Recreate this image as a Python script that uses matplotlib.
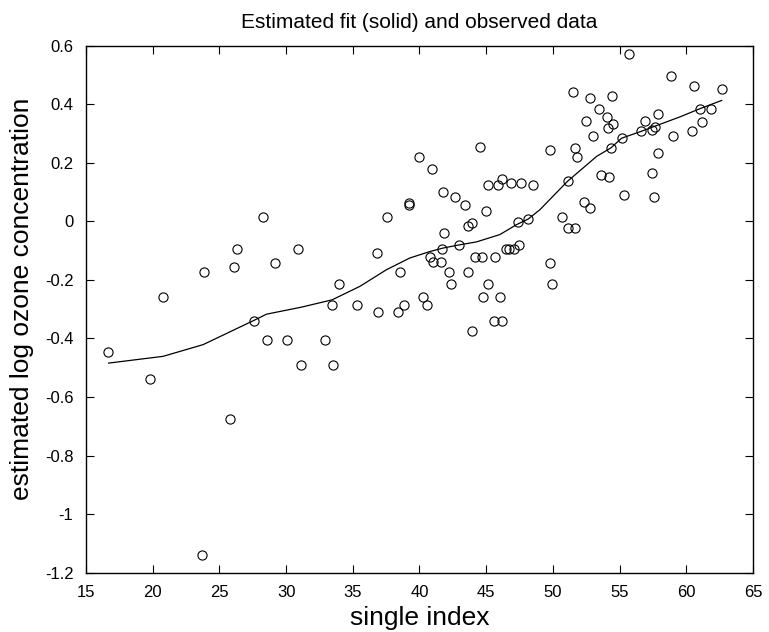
import matplotlib
matplotlib.use('Agg')
import matplotlib.pyplot as plt
from matplotlib.ticker import FuncFormatter

matplotlib.rcParams['font.family'] = ['Liberation Sans', 'DejaVu Sans']
matplotlib.rcParams['axes.unicode_minus'] = False

# observed data (single index, estimated log ozone)
obs_x = [16.65, 19.8, 20.75, 23.88, 26.13, 26.33, 28.25, 29.2, 30.86, 27.6,
         28.55, 30.08, 31.15, 25.83, 23.68, 44.55, 40.0, 40.93, 41.73, 42.63,
         43.4, 44.95, 45.15, 45.85, 46.2, 46.85, 47.6, 48.5, 39.23, 39.18,
         37.55, 41.85, 43.65, 43.95, 47.4, 48.15, 36.83, 33.95, 33.45, 35.3,
         36.88, 38.38, 38.85, 38.53, 40.23, 40.6, 32.95, 33.55, 40.78, 40.98,
         41.6, 41.65, 42.2, 42.35, 42.95, 43.63, 44.15, 44.7, 45.65, 45.15,
         44.78, 46.05, 43.9, 45.6, 46.2, 46.48, 46.73, 47.1, 47.48, 55.7,
         58.83, 60.55, 62.7, 51.54, 52.76, 54.4, 53.45, 54.08, 54.48, 54.15,
         52.5, 52.98, 54.35, 55.18, 56.9, 57.88, 56.6, 57.43, 57.65, 59.0,
         60.45, 61.18, 61.0, 61.83, 57.9, 57.4, 57.58, 55.35, 53.58, 54.18,
         51.65, 51.83, 49.8, 51.1, 52.33, 52.75, 50.68, 51.15, 51.65, 49.75,
         49.93]
obs_y = [-0.445, -0.54, -0.258, -0.174, -0.157, -0.094, 0.016, -0.141, -0.094, -0.34,
         -0.405, -0.405, -0.491, -0.676, -1.138, 0.253, 0.220, 0.179, 0.100, 0.082,
         0.056, 0.037, 0.123, 0.123, 0.145, 0.131, 0.131, 0.123, 0.064, 0.055,
         0.016, -0.040, -0.016, -0.004, -0.002, 0.008, -0.108, -0.214, -0.285, -0.285,
         -0.310, -0.310, -0.285, -0.174, -0.259, -0.285, -0.405, -0.491, -0.121, -0.140,
         -0.140, -0.094, -0.174, -0.214, -0.080, -0.174, -0.123, -0.123, -0.123, -0.214,
         -0.259, -0.259, -0.373, -0.341, -0.341, -0.094, -0.094, -0.094, -0.080, 0.571,
         0.498, 0.464, 0.451, 0.443, 0.422, 0.429, 0.384, 0.357, 0.331, 0.318,
         0.344, 0.292, 0.249, 0.284, 0.344, 0.366, 0.308, 0.313, 0.321, 0.292,
         0.310, 0.340, 0.385, 0.385, 0.232, 0.165, 0.082, 0.091, 0.160, 0.152,
         0.249, 0.220, 0.244, 0.137, 0.065, 0.046, 0.016, -0.023, -0.023, -0.141,
         -0.214]

# estimated fit
fit_x = [16.7, 20.78, 23.78, 27.6, 28.53, 31.15, 33.45, 35.53, 37.53, 39.28,
         40.78, 41.78, 43.03, 44.28, 46.03, 47.28, 48.15, 49.03, 51.1, 53.28,
         54.35, 55.15, 56.65, 57.53, 59.53, 61.03, 62.65]
fit_y = [-0.484, -0.461, -0.421, -0.338, -0.317, -0.293, -0.268, -0.222, -0.165, -0.125,
         -0.103, -0.091, -0.080, -0.070, -0.045, -0.011, 0.008, 0.040, 0.137, 0.222,
         0.251, 0.284, 0.308, 0.323, 0.357, 0.385, 0.413]

x_ticks = [15, 20, 25, 30, 35, 40, 45, 50, 55, 60, 65]
y_ticks = [-1.2, -1.0, -0.8, -0.6, -0.4, -0.2, 0, 0.2, 0.4, 0.6]

fig = plt.figure(figsize=(7.69, 6.32), dpi=100)
ax = fig.add_axes([0.1118, 0.0938, 0.8674, 0.8339])

ax.plot(fit_x, fit_y, color='black', linewidth=0.9)
ax.plot(obs_x, obs_y, linestyle='none', marker='o', markersize=6.6,
        markerfacecolor='none', markeredgecolor='black', markeredgewidth=0.8)

ax.set_xlim(15, 65)
ax.set_ylim(-1.2, 0.6)
ax.set_xticks(x_ticks)
ax.set_yticks(y_ticks)
ax.yaxis.set_major_formatter(FuncFormatter(lambda v, p: '%g' % round(v, 2)))

ax.tick_params(direction='in', length=6, width=0.8, top=True, right=True,
               labelsize=12, pad=9)
for s in ax.spines.values():
    s.set_linewidth(1.0)

ax.set_xlabel('single index', fontsize=19)
ax.xaxis.set_label_coords(0.5, -0.064)
ax.set_ylabel('estimated log ozone concentration', fontsize=19)
ax.yaxis.set_label_coords(-0.078, 0.52)
ax.set_title('Estimated fit (solid) and observed data', fontsize=15, pad=13)

plt.savefig('out.png', dpi=100)
